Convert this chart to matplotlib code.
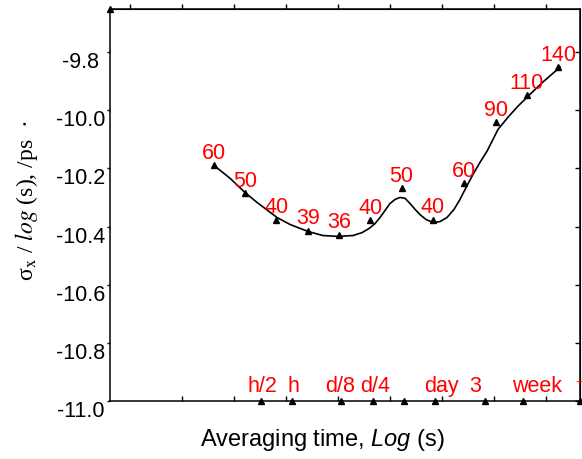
import numpy as np
import matplotlib
matplotlib.use('Agg')
import matplotlib.pyplot as plt

plt.rcParams['font.family'] = ['Liberation Sans', 'DejaVu Sans']
plt.rcParams['axes.unicode_minus'] = False
plt.rcParams['mathtext.fontset'] = 'custom'
plt.rcParams['mathtext.rm'] = 'Liberation Sans'
plt.rcParams['mathtext.it'] = 'Liberation Sans:italic'

# averaging times of the data points (s) and their values
tau = [640, 1280, 2560, 5120, 10240, 20480, 40960, 81920, 163840, 327680, 655360, 1310720]
sigma = [-10.190, -10.286, -10.376, -10.414, -10.428, -10.379,
         -10.269, -10.376, -10.252, -10.041, -9.948, -9.852]
point_labels = ['60', '50', '40', '39', '36', '40', '50', '40', '60', '90', '110', '140']

# smooth fit curve (log10 tau, value)
curve_x = [2.808, 2.962, 3.106, 3.221, 3.414, 3.539, 3.712, 3.856, 4.000, 4.145,
           4.231, 4.298, 4.356, 4.404, 4.452, 4.500, 4.548, 4.596, 4.645, 4.693,
           4.741, 4.789, 4.846, 4.914, 4.981, 5.048, 5.116, 5.173, 5.231, 5.298,
           5.366, 5.433, 5.491, 5.539, 5.635, 5.731, 5.827, 5.971, 6.135]
curve_y = [-10.190, -10.234, -10.283, -10.317, -10.369, -10.393, -10.417, -10.431, -10.434, -10.431,
           -10.421, -10.407, -10.390, -10.369, -10.345, -10.321, -10.307, -10.300, -10.303, -10.321,
           -10.341, -10.359, -10.376, -10.386, -10.383, -10.369, -10.341, -10.307, -10.266, -10.221,
           -10.179, -10.141, -10.100, -10.066, -10.024, -9.986, -9.952, -9.903, -9.852]

# time marks along the bottom (s)
event_tau = [1800, 3600, 10800, 21600, 43200, 86400, 259200, 604800, 2.12e6]
event_labels = ['h/2', 'h', 'd/8', 'd/4', 'day', '3', 'week']
event_label_x = [3.274, 3.568, 4.020, 4.356, 4.991, 5.318, 5.914]

ytick_vals = [-11.0, -10.8, -10.6, -10.4, -10.2, -10.0, -9.8]
ytick_text = ['-11.0', '-10.8', '-10.6', '-10.4', '-10.2', '-10.0', '-9.8']

fig = plt.figure(figsize=(5.82, 4.59), dpi=100)
ax = fig.add_axes([110 / 582, 1 - 401 / 459, 470 / 582, 392 / 459])
ax.set_xlim(1.808, 6.327)
ax.set_ylim(-11.0, -9.652)

for s in ax.spines.values():
    s.set_linewidth(1.1)

ax.plot(curve_x, curve_y, color='black', lw=1.2)
ax.plot(np.log10(tau), sigma, '^', color='black', ms=5, clip_on=False)
for x, y, t in zip(np.log10(tau), sigma, point_labels):
    ax.annotate(t, (x, y), xytext=(0, 4.5), textcoords='offset points',
                ha='center', va='baseline', color='red', fontsize=15.5,
                annotation_clip=False)

ax.plot(np.log10(event_tau), [-11.0] * len(event_tau), '^', color='black',
        ms=5, clip_on=False)
for x, t in zip(event_label_x, event_labels):
    ax.text(x, -10.969, t, ha='center', va='baseline', color='red', fontsize=15.5)
# small red mark at the right edge (label cut off in the original)
fig.text(575 / 582, 1 - 382 / 459, '+', ha='left', va='center', color='red', fontsize=8)

# arrow at the top of the y axis
ax.plot(0, 1, '^', color='black', ms=5, transform=ax.transAxes, clip_on=False)

ax.set_xticks(np.arange(2.5, 6.01, 0.5))
ax.tick_params(axis='x', direction='in', length=3.5, width=1, labelbottom=False)
top = ax.secondary_xaxis('top')
top.set_xticks(np.arange(2.0, 6.01, 0.5))
top.tick_params(direction='out', length=3.5, width=1, labeltop=False)

ax.set_yticks(ytick_vals)
ax.set_yticklabels(ytick_text)
ax.tick_params(axis='y', direction='out', length=2.2, width=1, pad=18.7, labelsize=15.5)
for lab in ax.get_yticklabels():
    lab.set_ha('center')
    lab.set_va('top')
right = ax.secondary_yaxis('right')
right.set_yticks(ytick_vals)
right.tick_params(direction='in', length=3.5, width=1, labelright=False)

fig.text(27 / 582, 1 - 201 / 459, r'σ$_{\rm x}$ / $\mathit{log}$ (s), /ps  ·',
         rotation=90, ha='center', va='center', fontsize=17,
         family='Liberation Serif', math_fontfamily='stix')
fig.text(322 / 582, 1 - 440 / 459, r'Averaging time, $\mathit{Log}$ (s)',
         ha='center', va='center', fontsize=17)

fig.savefig('out.png', dpi=100)
